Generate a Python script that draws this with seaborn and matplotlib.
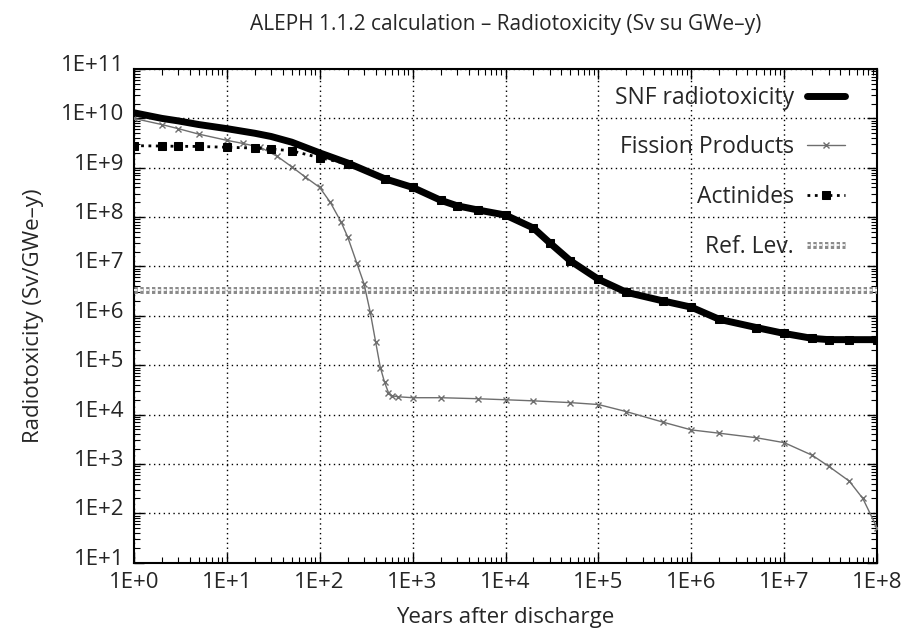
import numpy as np
import matplotlib
matplotlib.use("Agg")
import matplotlib.pyplot as plt
import matplotlib.patheffects as pe
import matplotlib.transforms as mtransforms
from matplotlib.ticker import FuncFormatter, LogLocator, NullFormatter
import seaborn as sns


# ---------------------------------------------
# Data
# ---------------------------------------------
years_fp = [1, 2, 3, 5, 10, 15, 23, 35, 50, 70, 100, 130, 170, 200, 250,
            300, 350, 400, 450, 500, 550, 600, 700, 1000, 2000, 5000, 1e4,
            2e4, 5e4, 1e5, 2e5, 5e5, 1e6, 2e6, 5e6, 1e7, 2e7, 3e7, 5e7,
            7e7, 1e8]
fission_products = [1.0e10, 7.5e9, 6.2e9, 4.8e9, 3.6e9, 3.1e9, 2.6e9,
                    1.7e9, 1.05e9, 6.5e8, 4.0e8, 2.0e8, 8e7, 4e7, 1.2e7,
                    4.5e6, 1.2e6, 3.0e5, 9e4, 4.5e4, 2.8e4, 2.4e4, 2.3e4,
                    2.2e4, 2.2e4, 2.1e4, 2.0e4, 1.9e4, 1.75e4, 1.6e4,
                    1.15e4, 7e3, 4.9e3, 4.2e3, 3.4e3, 2.7e3, 1.5e3, 9e2,
                    4.5e2, 2e2, 5e1]

years_act = [1, 2, 3, 5, 10, 20, 30, 50, 100, 200, 500, 1000, 2000, 3000,
             5000, 1e4, 2e4, 3e4, 5e4, 1e5, 2e5, 5e5, 1e6, 2e6, 5e6, 1e7,
             2e7, 3e7, 5e7, 1e8]
actinides = [2.8e9, 2.75e9, 2.72e9, 2.7e9, 2.6e9, 2.5e9, 2.4e9, 2.2e9,
             1.6e9, 1.2e9, 6e8, 4e8, 2.2e8, 1.7e8, 1.4e8, 1.1e8, 6e7, 3e7,
             1.3e7, 5.5e6, 3e6, 2e6, 1.5e6, 8.5e5, 5.8e5, 4.4e5, 3.5e5,
             3.3e5, 3.3e5, 3.3e5]
snf_total = [1.3e10, 1.0e10, 8.9e9, 7.5e9, 6.2e9, 5.0e9, 4.3e9, 3.3e9,
             2.0e9, 1.25e9, 6e8, 4e8, 2.2e8, 1.7e8, 1.4e8, 1.1e8, 6e7,
             3e7, 1.3e7, 5.5e6, 3e6, 2e6, 1.5e6, 8.5e5, 5.8e5, 4.4e5,
             3.5e5, 3.3e5, 3.3e5, 3.3e5]

years_ref = [1, 1e8]
ref_level = [3.3e6, 3.3e6]

x_ticks = [10.0 ** k for k in range(0, 9)]
y_ticks = [10.0 ** k for k in range(1, 12)]


def exp_label(v, pos):
    return f"1E+{int(round(np.log10(v)))}"


# ---------------------------------------------
# Plot
# ---------------------------------------------
sns.set_style("ticks")
plt.rcParams["font.family"] = ["Open Sans", "DejaVu Sans"]

fig, ax = plt.subplots(figsize=(9.1, 6.33), dpi=100)
fig.subplots_adjust(left=0.147, right=0.964, top=0.891, bottom=0.111)

ax.set_xscale("log")
ax.set_yscale("log")

sns.lineplot(x=years_act, y=snf_total, ax=ax, color="black",
             linewidth=5, label="SNF radiotoxicity", zorder=5)
sns.lineplot(x=years_fp, y=fission_products, ax=ax, color="#6e6e6e",
             linewidth=1, marker="x", markersize=4, markeredgewidth=1,
             markeredgecolor="#6e6e6e", label="Fission Products", zorder=4)
sns.lineplot(x=years_act, y=actinides, ax=ax, color="black",
             linestyle=":", linewidth=2, marker="s", markersize=6,
             markeredgecolor="black", label="Actinides", zorder=6)
sns.lineplot(x=years_ref, y=ref_level, ax=ax, color="white",
             linewidth=1.2, linestyle=(0, (2, 1.5)), label="Ref. Lev.",
             zorder=3,
             path_effects=[pe.Stroke(linewidth=5, foreground="#8a8a8a"),
                           pe.Normal()])

ax.set_xlim(1, 1e8)
ax.set_ylim(10, 1e11)
ax.set_xticks(x_ticks)
ax.set_yticks(y_ticks)
ax.xaxis.set_major_formatter(FuncFormatter(exp_label))
ax.yaxis.set_major_formatter(FuncFormatter(exp_label))
ax.xaxis.set_minor_locator(LogLocator(base=10, subs=np.arange(2, 10), numticks=20))
ax.yaxis.set_minor_locator(LogLocator(base=10, subs=np.arange(2, 10), numticks=20))
ax.xaxis.set_minor_formatter(NullFormatter())
ax.yaxis.set_minor_formatter(NullFormatter())

ax.tick_params(which="both", direction="in", top=True, right=True,
               color="black")
ax.tick_params(which="major", length=7, width=1, labelsize=16, pad=7)
ax.tick_params(which="minor", length=4, width=0.8)

# gnuplot-like raised y tick labels
offset = mtransforms.ScaledTranslation(0, 6 / 100, fig.dpi_scale_trans)
for t in ax.yaxis.get_major_ticks():
    t.label1.set_transform(t.label1.get_transform() + offset)

ax.grid(True, which="major", color="black", linestyle=(0, (1, 2.5)),
        linewidth=1)

for s in ax.spines.values():
    s.set_color("black")
    s.set_linewidth(1.5)

ax.set_title("ALEPH 1.1.2 calculation – Radiotoxicity (Sv su GWe–y)",
             fontsize=15, pad=28)
ax.set_xlabel("Years after discharge", fontsize=16, labelpad=10)
ax.set_ylabel("Radiotoxicity (Sv/GWe–y)", fontsize=16, labelpad=12)

ax.legend(loc="upper right", bbox_to_anchor=(0.985, 1.008), frameon=False,
          markerfirst=False, fontsize=16.5, labelspacing=1.12,
          handlelength=1.7, handletextpad=0.55)

fig.savefig("out.png", dpi=100)
